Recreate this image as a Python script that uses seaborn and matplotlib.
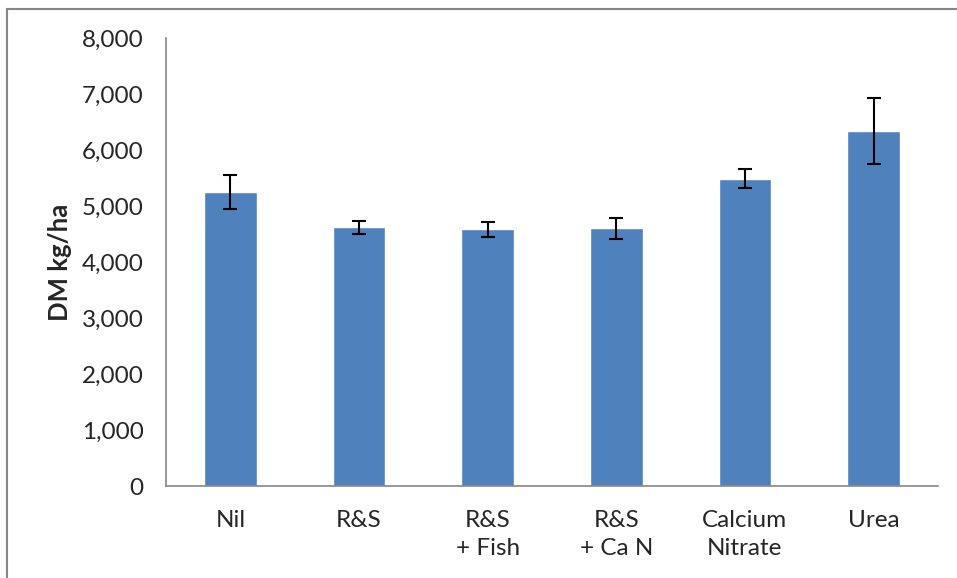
import matplotlib
matplotlib.use("Agg")
import matplotlib.pyplot as plt
import matplotlib.patches as patches
import seaborn as sns
import pandas as pd
import numpy as np

# treatments and dry matter yield
treatments = ["Nil", "R&S", "R&S\n+ Fish", "R&S\n+ Ca N", "Calcium\nNitrate", "Urea"]
dm_yield = [5255, 4620, 4583, 4605, 5490, 6345]
dm_err = [300, 110, 137, 188, 175, 590]

df = pd.DataFrame({"treatment": treatments, "dm": dm_yield, "err": dm_err})

sns.set_style("white")
plt.rcParams["font.family"] = ["Lato", "DejaVu Sans"]

fig = plt.figure(figsize=(9.57, 5.78), dpi=100)
ax = fig.add_axes([0.1735, 0.159, 0.8065, 0.775])

sns.barplot(data=df, x="treatment", y="dm", color="#4F81BD", saturation=1,
            width=0.41, errorbar=None, ax=ax)
ax.errorbar(np.arange(len(df)), df["dm"], yerr=df["err"], fmt="none",
            ecolor="black", elinewidth=1.5, capsize=5, capthick=1.5)

ax.set_xlim(-0.5, len(df) - 0.5)
ax.set_ylim(0, 8000)
ax.set_yticks(range(0, 8001, 1000))
ax.set_yticklabels([f"{v:,}" for v in range(0, 8001, 1000)], fontsize=17.5)
ax.set_xticks(np.arange(len(df)))
ax.set_xticklabels(treatments, fontsize=17.5, linespacing=1.45)
ax.set_xticks(np.arange(-0.5, len(df)), minor=True)
ax.tick_params(axis="x", which="major", length=0, pad=17)
ax.tick_params(axis="x", which="minor", length=6, width=1.2, color="#868686", direction="out")
ax.tick_params(axis="y", length=6, width=1.2, color="#868686", direction="out", pad=10)
ax.set_xlabel("")
ax.set_ylabel("DM kg/ha", fontsize=18.5, fontweight="bold", labelpad=7)

for s in ["top", "right"]:
    ax.spines[s].set_visible(False)
for s in ["left", "bottom"]:
    ax.spines[s].set_color("#868686")
    ax.spines[s].set_linewidth(1.2)

# chart area border
fig.patches.append(patches.Rectangle((7 / 957, -0.1), 1.2, 1 - 9 / 578 + 0.1,
                                     transform=fig.transFigure, fill=False,
                                     edgecolor="#868686", linewidth=1.5))

fig.savefig("out.png", dpi=100)
